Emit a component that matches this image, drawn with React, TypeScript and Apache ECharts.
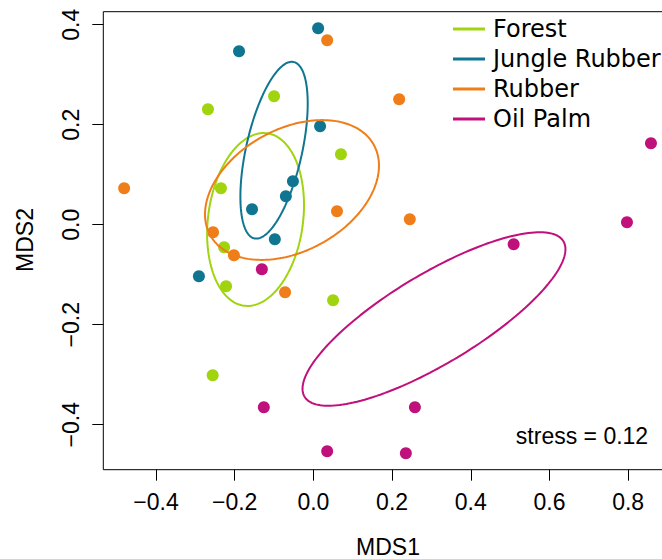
import React, { useEffect, useRef } from "react";
import * as echarts from "echarts";

const groups = ["Forest", "Jungle Rubber", "Rubber", "Oil Palm"];
const colors = ["#9fd40f", "#0f7591", "#ef7e1a", "#c0107c"];

const forestX = [-0.268, -0.1, -0.235, 0.07, -0.227, -0.222, 0.05, -0.256];
const forestY = [0.231, 0.257, 0.073, 0.141, -0.045, -0.123, -0.151, -0.301];
const jungleX = [-0.189, 0.012, 0.017, -0.052, -0.07, -0.156, -0.098, -0.291];
const jungleY = [0.347, 0.393, 0.197, 0.087, 0.057, 0.031, -0.029, -0.103];
const rubberX = [0.035, 0.218, -0.481, 0.06, 0.245, -0.255, -0.202, -0.072];
const rubberY = [0.369, 0.251, 0.073, 0.027, 0.011, -0.015, -0.061, -0.135];
const palmX = [0.858, 0.797, 0.509, -0.131, -0.126, 0.258, 0.035, 0.235];
const palmY = [0.163, 0.005, -0.039, -0.089, -0.365, -0.365, -0.453, -0.457];

// ellipse parameters in data units: centre and two conjugate semi-diameter vectors
const ellCx = [-0.147, -0.1, -0.0544, 0.3065];
const ellCy = [0.0104, 0.149, 0.0694, -0.1886];
const ellUx = [0.0292, 0.051, 0.2081, 0.3289];
const ellUy = [0.1724, 0.1762, 0.0901, 0.1555];
const ellVx = [-0.1196, -0.0687, -0.0747, -0.0589];
const ellVy = [0.0125, 0.0148, 0.1069, 0.0771];

const xTicks = [-0.4, -0.2, 0, 0.2, 0.4, 0.6, 0.8];
const yTicks = [-0.4, -0.2, 0, 0.2, 0.4];
const stressText = "stress = 0.12";

const ptsX = [forestX, jungleX, rubberX, palmX];
const ptsY = [forestY, jungleY, rubberY, palmY];

function ellipsePoints(i: number): number[][] {
  const out: number[][] = [];
  const n = 180;
  for (let k = 0; k <= n; k++) {
    const t = (k / n) * Math.PI * 2;
    const c = Math.cos(t);
    const s = Math.sin(t);
    out.push([
      ellCx[i] + ellUx[i] * c + ellVx[i] * s,
      ellCy[i] + ellUy[i] * c + ellVy[i] * s,
    ]);
  }
  return out;
}

const fmt = (v: number) => (v < 0 ? "\u2212" : "") + Math.abs(v).toFixed(1);

export default function App() {
  const ref = useRef<HTMLDivElement>(null);
  useEffect(() => {
    document.body.style.margin = "0";
    const chart = echarts.init(ref.current!, undefined, { renderer: "svg" });
    const left = 103.3;
    const top = 11.7;
    const width = 569.7;
    const height = 458;
    const scatterSeries = groups.map((g, i) => ({
      name: g + " sites",
      type: "scatter",
      symbol: "circle",
      symbolSize: 12,
      itemStyle: { color: colors[i], opacity: 1 },
      data: ptsX[i].map((x, j) => [x, ptsY[i][j]]),
      z: 2,
    }));
    const ellipseSeries = groups.map((g, i) => ({
      name: g,
      type: "line",
      color: colors[i],
      showSymbol: false,
      symbol: "none",
      smooth: false,
      lineStyle: { color: colors[i], width: 2 },
      data: ellipsePoints(i),
      z: 3,
    }));
    chart.setOption({
      animation: false,
      grid: {
        left,
        top,
        width,
        height,
        outerBoundsMode: "none",
        containLabel: false,
        show: true,
        borderColor: "#000",
        borderWidth: 1,
        backgroundColor: "transparent",
      },
      xAxis: {
        type: "value",
        min: -0.534,
        max: 0.914,
        axisLine: { show: false, onZero: false },
        splitLine: { show: false },
        axisTick: {
          show: true,
          length: 11,
          inside: false,
          customValues: xTicks,
          lineStyle: { color: "#000", width: 1 },
        },
        axisLabel: {
          customValues: xTicks,
          formatter: fmt,
          fontFamily: "Liberation Sans, Arial, sans-serif",
          fontSize: 23,
          color: "#000",
          margin: 21,
        },
      },
      yAxis: {
        type: "value",
        min: -0.49,
        max: 0.426,
        axisLine: { show: false, onZero: false },
        splitLine: { show: false },
        axisTick: {
          show: true,
          length: 11,
          inside: false,
          customValues: yTicks,
          lineStyle: { color: "#000", width: 1 },
        },
        axisLabel: {
          customValues: yTicks,
          formatter: fmt,
          rotate: 90,
          fontFamily: "Liberation Sans, Arial, sans-serif",
          fontSize: 23,
          color: "#000",
          margin: 21,
        },
      },
      legend: {
        data: groups,
        orient: "vertical",
        left: 453,
        top: 17,
        icon: "rect",
        itemWidth: 32,
        itemHeight: 3,
        itemGap: 6,
        textStyle: {
          fontFamily: "DejaVu Sans, Verdana, sans-serif",
          fontSize: 24,
          lineHeight: 24,
          color: "#000",
          padding: [0, 0, 0, 3],
        },
        padding: 0,
      },
      graphic: [
        {
          type: "text",
          x: 388,
          y: 547,
          style: {
            text: "MDS1",
            fontFamily: "Liberation Sans, Arial, sans-serif",
            fontSize: 23,
            fill: "#000",
            align: "center",
            verticalAlign: "middle",
          },
        },
        {
          type: "text",
          x: 25,
          y: 240,
          rotation: Math.PI / 2,
          style: {
            text: "MDS2",
            fontFamily: "Liberation Sans, Arial, sans-serif",
            fontSize: 23,
            fill: "#000",
            align: "center",
            verticalAlign: "middle",
          },
        },
        {
          type: "text",
          x: 582,
          y: 436,
          style: {
            text: stressText,
            fontFamily: "Liberation Sans, Arial, sans-serif",
            fontSize: 23,
            fill: "#000",
            align: "center",
            verticalAlign: "middle",
          },
        },
      ],
      series: [...scatterSeries, ...ellipseSeries],
    });
    return () => chart.dispose();
  }, []);
  return (
    <div
      ref={ref}
      style={{ position: "absolute", left: 0, top: 0, width: 662, height: 559 }}
    />
  );
}
